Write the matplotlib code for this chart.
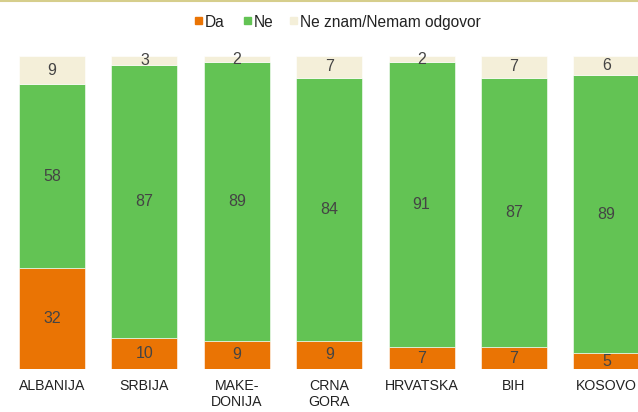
import numpy as np
import matplotlib.pyplot as plt
from matplotlib.patches import Rectangle
from matplotlib.lines import Line2D

plt.rcParams['font.family'] = ['Liberation Sans', 'DejaVu Sans']

countries = ['ALBANIJA', 'SRBIJA', 'MAKE-\nDONIJA', 'CRNA\nGORA', 'HRVATSKA', 'BIH', 'KOSOVO']
da = [32, 10, 9, 9, 7, 7, 5]
ne = [58, 87, 89, 84, 91, 87, 89]
ne_znam = [9, 3, 2, 7, 2, 7, 6]
series_names = ['Da', 'Ne', 'Ne znam/Nemam odgovor']
colors = ['#EA7404', '#63C354', '#F4EFD9']

W, H = 638, 412
fig = plt.figure(figsize=(W / 100, H / 100), dpi=100)

# bars: centre of first at 52px, spacing 92.4px, plot area from y=56 to y=369
step = 92.4
x0 = -52 / step
x1 = (W - 52) / step
ax = fig.add_axes([0, (H - 369) / H, 1, (369 - 56) / H])
ax.set_xlim(x0, x1)
ax.set_ylim(0, 100)

data = np.array([da, ne, ne_znam], dtype=float)
shares = data / data.sum(axis=0) * 100
x = np.arange(len(countries))
bottom = np.zeros(len(countries))
for i in range(3):
    ax.bar(x, shares[i], 0.714, bottom=bottom, color=colors[i],
           edgecolor='#ffffff', linewidth=0.4)
    for xi, b, s, v in zip(x, bottom, shares[i], data[i]):
        ax.text(xi, b + s / 2, f'{int(v)}', ha='center', va='center',
                fontsize=11.5, color='#444444')
    bottom += shares[i]

ax.set_xticks(x)
ax.set_xticklabels(countries, fontsize=10.2, color='#222222', linespacing=1.2)
ax.tick_params(axis='x', length=0, pad=7)
ax.set_yticks([])
for s in ax.spines.values():
    s.set_visible(False)

# legend drawn by hand
leg_x = [195, 243.5, 290]
for lx, name, c in zip(leg_x, series_names, colors):
    fig.add_artist(Rectangle((lx / W, 1 - 24 / H), 7 / W, 7 / H,
                             transform=fig.transFigure, color=c))
    fig.text((lx + 10) / W, 1 - 22.5 / H, name, ha='left', va='center',
             fontsize=11.2, color='#222222')

# thin rule at the very top
fig.add_artist(Line2D([0, 1], [1 - 0.8 / H, 1 - 0.8 / H], transform=fig.transFigure,
                      color='#D6CE8C', linewidth=1.5))

fig.savefig('out.png', dpi=100)
